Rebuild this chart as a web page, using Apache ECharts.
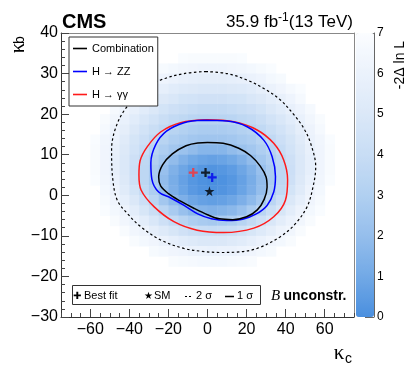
<!DOCTYPE html>
<html>
<head>
<meta charset="utf-8">
<script src="https://cdn.jsdelivr.net/npm/echarts@6/dist/echarts.min.js"></script>
<style>
html, body { margin: 0; padding: 0; background: #fff; }
#main { width: 407px; height: 374px; }
</style>
</head>
<body>
<div id="main"></div>
<script>
// kappa_c vs kappa_b likelihood scan (B unconstrained)
var xMajorTicks = [-60, -40, -20, 0, 20, 40, 60];
var yMajorTicks = [-30, -20, -10, 0, 10, 20, 30, 40];

// heat map: cell centres, rows listed top to bottom, value = -2 delta ln L (7 = white)
var heatKc = [-62.5, -57.5, -52.5, -47.5, -42.5, -37.5, -32.5, -27.5, -22.5, -17.5, -12.5, -7.5, -2.5,
  2.5, 7.5, 12.5, 17.5, 22.5, 27.5, 32.5, 37.5, 42.5, 47.5, 52.5, 57.5, 62.5, 67.5];
var heatKb = [33.75, 31.25, 28.75, 26.25, 23.75, 21.25, 18.75, 16.25, 13.75, 11.25, 8.75,
  6.25, 3.75, 1.25, -1.25, -3.75, -6.25, -8.75, -11.25, -13.75, -16.25];
var heatRows = [
  [7,7,7,7,7,7,7,7,7,7,6.9,6.8,6.8,6.8,6.8,6.8,6.9,7,7,7,7,7,7,7,7,7,7],
  [7,7,7,7,7,7,7,6.9,6.7,6.5,6.4,6.3,6.2,6.2,6.2,6.3,6.4,6.5,6.7,6.9,7,7,7,7,7,7,7],
  [7,7,7,7,7,7,6.7,6.5,6.2,6.0,5.8,5.7,5.6,5.6,5.6,5.7,5.8,6.0,6.2,6.5,6.7,7,7,7,7,7,7],
  [7,7,7,7,6.9,6.6,6.3,6.0,5.7,5.4,5.2,5.1,5.0,5.0,5.0,5.1,5.2,5.4,5.7,6.0,6.3,6.6,6.9,7,7,7,7],
  [7,7,7,7,6.6,6.2,5.8,5.5,5.1,4.9,4.6,4.5,4.4,4.4,4.4,4.5,4.6,4.9,5.1,5.5,5.8,6.2,6.6,7,7,7,7],
  [7,7,7,6.6,6.2,5.8,5.4,5.0,4.6,4.3,4.1,3.9,3.8,3.8,3.8,3.9,4.1,4.3,4.6,5.0,5.4,5.8,6.2,6.6,7,7,7],
  [7,7,6.8,6.4,5.9,5.4,4.9,4.5,4.1,3.8,3.6,3.4,3.3,3.3,3.3,3.4,3.6,3.8,4.1,4.5,4.9,5.4,5.9,6.4,6.8,7,7],
  [7,7,6.6,6.1,5.6,5.0,4.5,4.1,3.7,3.3,3.1,2.9,2.8,2.8,2.8,2.9,3.1,3.3,3.7,4.1,4.5,5.0,5.6,6.1,6.6,7,7],
  [7,6.9,6.4,6.0,5.3,4.7,4.2,3.7,3.3,2.9,2.7,2.5,2.4,2.4,2.4,2.5,2.7,2.9,3.3,3.7,4.2,4.7,5.3,6.0,6.4,6.9,7],
  [7,6.8,6.3,5.8,5.1,4.5,3.9,3.3,2.9,2.5,2.2,1.9,1.6,1.6,1.6,1.9,2.2,2.5,2.9,3.3,3.9,4.5,5.1,5.8,6.3,6.8,7],
  [7,6.8,6.3,5.7,5.0,4.3,3.6,3.0,2.5,1.9,1.4,1.0,0.8,0.7,0.8,1.0,1.4,1.9,2.5,3.0,3.6,4.3,5.0,5.7,6.3,6.8,7],
  [7,6.8,6.3,5.7,5.0,4.2,3.5,2.8,2.1,1.4,0.9,0.5,0.3,0.2,0.3,0.5,0.9,1.4,2.1,2.8,3.5,4.2,5.0,5.7,6.3,6.8,7],
  [7,6.9,6.4,5.9,5.1,4.3,3.5,2.7,1.9,1.2,0.7,0.3,0.1,0.0,0.1,0.3,0.7,1.2,1.9,2.7,3.5,4.3,5.1,5.9,6.4,6.9,7],
  [7,7,6.5,6.1,5.3,4.6,3.7,2.9,2.0,1.3,0.8,0.4,0.2,0.1,0.2,0.4,0.8,1.3,2.0,2.9,3.7,4.6,5.3,6.1,6.5,7,7],
  [7,7,6.7,6.3,5.7,5.0,4.2,3.4,2.5,1.8,1.3,0.9,0.7,0.6,0.7,0.9,1.3,1.8,2.5,3.4,4.2,5.0,5.7,6.3,6.7,7,7],
  [7,7,6.9,6.5,6.1,5.5,4.8,4.1,3.4,2.7,2.1,1.7,1.5,1.4,1.5,1.7,2.1,2.7,3.4,4.1,4.8,5.5,6.1,6.5,6.9,7,7],
  [7,7,7,6.8,6.4,6.0,5.5,4.9,4.3,3.8,3.3,2.9,2.7,2.6,2.7,2.9,3.3,3.8,4.3,4.9,5.5,6.0,6.4,6.8,7,7,7],
  [7,7,7,7,6.8,6.4,6.1,5.6,5.2,4.8,4.4,4.1,4.0,3.9,4.0,4.1,4.4,4.8,5.2,5.6,6.1,6.4,6.8,7,7,7,7],
  [7,7,7,7,7,6.8,6.5,6.3,6.0,5.7,5.4,5.2,5.0,5.0,5.0,5.2,5.4,5.7,6.0,6.3,6.5,6.8,7,7,7,7,7],
  [7,7,7,7,7,7,7.0,6.7,6.5,6.3,6.2,6.0,6.0,5.9,6.0,6.0,6.2,6.3,6.5,6.7,7.0,7,7,7,7,7,7],
  [7,7,7,7,7,7,7,7,7,6.8,6.7,6.6,6.5,6.5,6.5,6.6,6.7,6.8,7,7,7,7,7,7,7,7,7]
];

// contours [kappa_c, kappa_b]
var contourComb2s = [[-1,30.5],[10,30],[20.3,28.4],[30,26],[37.3,23.5],[44,20],[49.3,16.5],[53,12.5],
  [55.4,7],[54,2],[51,-2.8],[45,-7],[37.3,-10.2],[25.4,-13.1],[15,-14],[6.6,-14.1],[-3,-13.8],
  [-12.1,-13.1],[-24,-11],[-34.3,-7.7],[-41,-4.5],[-46.2,-1.2],[-48.5,4],[-49.1,11.2],[-47.1,16.5],
  [-41.9,21.4],[-33,25.8],[-24,28.4],[-12,30],[-1,30.5]];
var contourComb1s = [[0,13.0],[8,12.8],[16,11.6],[22,9.8],[27,7.2],[30,4.5],[30.5,2],[29,-1],[25.5,-3.6],
  [20,-5.3],[13,-6],[6,-5.8],[0,-4.8],[-7,-3.2],[-14,-1.4],[-20,0.4],[-24,2.3],[-25,4.5],[-23,7.5],
  [-18,10.2],[-11,12.2],[-5,12.9],[0,13.0]];
var contourZZ = [[-2,18.5],[-12,17.9],[-21,15.8],[-26.5,12.5],[-29,8],[-28.5,4],[-25,0.8],[-19,-0.6],
  [-12,-2.5],[-5,-4.6],[2,-5.8],[10,-6.2],[18,-5.9],[25,-4.6],[30.5,-2.5],[33.9,0.8],[34.8,4.6],
  [33.1,9.5],[28.8,13.6],[20.3,16.9],[10,18.3],[-2,18.5]];
var contourGG = [[0,18.6],[-13.8,17.9],[-24,15.6],[-30.8,12],[-34.5,8.5],[-35.1,5],[-34,1.3],
  [-27.4,-2.8],[-17.2,-6.5],[-5.3,-8.6],[8.3,-9.2],[23.7,-8.1],[33.9,-5.3],[39.9,-1.2],[41,3.8],
  [39,8.7],[33.9,12.8],[25.4,16.1],[13.5,18.1],[0,18.6]];

var bestFitComb = [-1, 5.6];
var bestFitZZ = [2.4, 4.4];
var bestFitGG = [-7.3, 5.6];
var smPoint = [1, 1];

var heatData = [];
for (var i = 0; i < heatKb.length; i++) {
  for (var j = 0; j < heatKc.length; j++) {
    if (heatRows[i][j] < 7) heatData.push([heatKc[j], heatKb[i], heatRows[i][j]]);
  }
}

var SANS = '"Liberation Sans", Arial, sans-serif';
var cellW = 5, cellH = 2.5;
var plusPath = 'path://M3,0H5V3H8V5H5V8H3V5H0V3H3Z';
var starPath = 'path://M50,0L61,35H98L68,57L79,91L50,70L21,91L32,57L2,35H39Z';

function fmt(v) { return v < 0 ? '\u2212' + (-v) : String(v); }

function renderCell(params, api) {
  var kc = api.value(0), kb = api.value(1);
  var p0 = api.coord([kc - cellW / 2, kb + cellH / 2]);
  var p1 = api.coord([kc + cellW / 2, kb - cellH / 2]);
  return {
    type: 'rect',
    shape: { x: p0[0], y: p0[1], width: p1[0] - p0[0] + 0.5, height: p1[1] - p0[1] + 0.5 },
    style: { fill: api.visual('color') }
  };
}

var myChart = echarts.init(document.getElementById('main'));
var option = {
  animation: false,
  backgroundColor: '#fff',
  grid: [
    { left: 61, top: 33, width: 293, height: 284 },
    { left: 356, top: 33, width: 18, height: 284 }
  ],
  visualMap: {
    type: 'continuous', min: 0, max: 7, dimension: 2, seriesIndex: 0,
    left: 356, top: 33, itemWidth: 18, itemHeight: 284, padding: 0,
    calculable: false, hoverLink: false, text: null, showLabel: false,
    inRange: { color: ['#4a8fdf', '#72a9e6', '#95beec', '#b1d0f1', '#c8ddf5', '#dbe8f8', '#ebf2fc', '#fbfdff'] }
  },
  xAxis: [
    { gridIndex: 0, type: 'value', position: 'bottom', min: -75, max: 75, interval: 5,
      axisLine: { onZero: false, lineStyle: { color: '#333' } },
      axisTick: { inside: true, length: 4, lineStyle: { color: '#444' } },
      axisLabel: { margin: 5, fontSize: 16, color: '#000', fontFamily: SANS,
        formatter: function (v) { return v % 20 === 0 ? fmt(v) : ''; } },
      splitLine: { show: false } },
    { gridIndex: 0, type: 'value', position: 'bottom', min: -75, max: 75, interval: 5,
      axisLine: { show: false, onZero: false }, axisLabel: { show: false }, splitLine: { show: false },
      axisTick: { inside: true, length: 8, customValues: xMajorTicks, lineStyle: { color: '#444' } } },
    { gridIndex: 0, type: 'value', position: 'top', min: -75, max: 75,
      axisLine: { onZero: false, lineStyle: { color: '#888' } }, axisTick: { show: false },
      axisLabel: { show: false }, splitLine: { show: false } },
    { gridIndex: 1, type: 'value', min: 0, max: 1, show: false }
  ],
  yAxis: [
    { gridIndex: 0, type: 'value', position: 'left', min: -30, max: 40, interval: 2,
      axisLine: { onZero: false, lineStyle: { color: '#333' } },
      axisTick: { inside: true, length: 4, lineStyle: { color: '#444' } },
      axisLabel: { margin: 3, fontSize: 16, color: '#000', fontFamily: SANS,
        formatter: function (v) { return v % 10 === 0 ? fmt(v) : ''; } },
      splitLine: { show: false } },
    { gridIndex: 0, type: 'value', position: 'left', min: -30, max: 40, interval: 2,
      axisLine: { show: false, onZero: false }, axisLabel: { show: false }, splitLine: { show: false },
      axisTick: { inside: true, length: 8, customValues: yMajorTicks, lineStyle: { color: '#444' } } },
    { gridIndex: 0, type: 'value', position: 'right', min: -30, max: 40,
      axisLine: { onZero: false, lineStyle: { color: '#888' } }, axisTick: { show: false },
      axisLabel: { show: false }, splitLine: { show: false } },
    { gridIndex: 1, type: 'value', position: 'right', min: 0, max: 7, interval: 1,
      axisLine: { onZero: false, lineStyle: { color: '#666' } },
      axisTick: { inside: true, length: 9, lineStyle: { color: '#666' } },
      axisLabel: { margin: 3, fontSize: 12, color: '#000', fontFamily: SANS },
      splitLine: { show: false } }
  ],
  legend: {
    data: ['Combination', 'H \u2192 ZZ', 'H \u2192 \u03b3\u03b3'],
    orient: 'vertical', left: 69, top: 37, padding: [5, 4, 5, 4], itemGap: 10,
    icon: 'rect', itemWidth: 14, itemHeight: 1.6,
    backgroundColor: '#fff', borderColor: '#333', borderWidth: 1, borderRadius: 0,
    textStyle: { fontSize: 11, color: '#000', fontFamily: SANS, lineHeight: 13 },
    selectedMode: false
  },
  series: [
    { name: 'likelihood', type: 'custom', xAxisIndex: 0, yAxisIndex: 0,
      renderItem: renderCell, data: heatData, encode: { x: 0, y: 1 }, silent: true, z: 1 },
    { name: 'Combination 2\u03c3', type: 'line', xAxisIndex: 0, yAxisIndex: 0, data: contourComb2s,
      smooth: 0.35, symbol: 'none', silent: true, z: 3,
      lineStyle: { color: '#000', width: 1.2, type: [2.5, 2.5] } },
    { name: 'H \u2192 \u03b3\u03b3', type: 'line', xAxisIndex: 0, yAxisIndex: 0, data: contourGG,
      smooth: 0.35, symbol: 'none', silent: true, z: 3, color: '#ff1a1a',
      lineStyle: { color: '#ff1a1a', width: 1.5 } },
    { name: 'H \u2192 ZZ', type: 'line', xAxisIndex: 0, yAxisIndex: 0, data: contourZZ,
      smooth: 0.35, symbol: 'none', silent: true, z: 3, color: '#0000ff',
      lineStyle: { color: '#0000ff', width: 1.5 } },
    { name: 'Combination', type: 'line', xAxisIndex: 0, yAxisIndex: 0, data: contourComb1s,
      smooth: 0.35, symbol: 'none', silent: true, z: 4, color: '#000',
      lineStyle: { color: '#000', width: 1.5 } },
    { name: 'Best fit \u03b3\u03b3', type: 'scatter', xAxisIndex: 0, yAxisIndex: 0, data: [bestFitGG],
      symbol: plusPath, symbolSize: 9, itemStyle: { color: '#ff3030' }, silent: true, z: 5 },
    { name: 'Best fit combination', type: 'scatter', xAxisIndex: 0, yAxisIndex: 0, data: [bestFitComb],
      symbol: plusPath, symbolSize: 9, itemStyle: { color: '#000' }, silent: true, z: 5 },
    { name: 'Best fit ZZ', type: 'scatter', xAxisIndex: 0, yAxisIndex: 0, data: [bestFitZZ],
      symbol: plusPath, symbolSize: 9, itemStyle: { color: '#0000ee' }, silent: true, z: 5 },
    { name: 'SM', type: 'scatter', xAxisIndex: 0, yAxisIndex: 0, data: [smPoint],
      symbol: starPath, symbolSize: 10, itemStyle: { color: '#000' }, silent: true, z: 5 }
  ],
  graphic: [
    { type: 'text', x: 62, y: 22, style: { text: 'CMS', font: 'bold 20px ' + SANS, fill: '#000', verticalAlign: 'middle' } },
    { type: 'text', x: 353, y: 22, style: {
        text: '{a|35.9 fb}{s|-1}{a|(13 TeV)}', align: 'right', verticalAlign: 'middle',
        rich: { a: { fontSize: 17, fontFamily: SANS, fill: '#000' },
                s: { fontSize: 12, fontFamily: SANS, fill: '#000', verticalAlign: 'top', padding: [0, 0, 8, 0] } } } },
    { type: 'text', x: 18, y: 48, rotation: Math.PI / 2, style: { text: '\u03ba', font: '21px "Liberation Serif", serif', fill: '#000', align: 'center', verticalAlign: 'middle' } },
    { type: 'text', x: 20.5, y: 40, rotation: Math.PI / 2, style: { text: 'b', font: '14px ' + SANS, fill: '#000', align: 'center', verticalAlign: 'middle' } },
    { type: 'text', x: 339, y: 353, style: { text: '\u03ba', font: '21px "Liberation Serif", serif', fill: '#000', align: 'center', verticalAlign: 'middle' } },
    { type: 'text', x: 348.5, y: 359, style: { text: 'c', font: '14px ' + SANS, fill: '#000', align: 'center', verticalAlign: 'middle' } },
    { type: 'text', x: 400, y: 65, rotation: Math.PI / 2, style: { text: '-2\u0394 ln L', font: '14px ' + SANS, fill: '#000', align: 'center', verticalAlign: 'middle' } },
    { type: 'rect', z: 20, shape: { x: 72.5, y: 285.5, width: 188, height: 19 }, style: { fill: '#fff', stroke: '#333', lineWidth: 1 } },
    { type: 'text', z: 21, x: 73, y: 296, style: { text: '\u271a', font: '10px "DejaVu Sans"', fill: '#000', verticalAlign: 'middle' } },
    { type: 'text', z: 21, x: 84, y: 296, style: { text: 'Best fit', font: '11px ' + SANS, fill: '#000', verticalAlign: 'middle' } },
    { type: 'text', z: 21, x: 144, y: 296, style: { text: '\u2605', font: '10px "DejaVu Sans"', fill: '#000', verticalAlign: 'middle' } },
    { type: 'text', z: 21, x: 154, y: 296, style: { text: 'SM', font: '11px ' + SANS, fill: '#000', verticalAlign: 'middle' } },
    { type: 'line', z: 21, shape: { x1: 185, y1: 296.5, x2: 193, y2: 296.5 }, style: { stroke: '#000', lineWidth: 1, lineDash: [2, 2] } },
    { type: 'text', z: 21, x: 196, y: 296, style: { text: '2 \u03c3', font: '11px ' + SANS, fill: '#000', verticalAlign: 'middle' } },
    { type: 'line', z: 21, shape: { x1: 225, y1: 296.5, x2: 234, y2: 296.5 }, style: { stroke: '#000', lineWidth: 1.5 } },
    { type: 'text', z: 21, x: 237, y: 296, style: { text: '1 \u03c3', font: '11px ' + SANS, fill: '#000', verticalAlign: 'middle' } },
    { type: 'text', z: 21, x: 271, y: 296, style: {
        text: '{b|B} {u|unconstr.}', verticalAlign: 'middle',
        rich: { b: { fontSize: 15, fontStyle: 'italic', fontFamily: '"Liberation Serif", serif', fill: '#000' },
                u: { fontSize: 14, fontWeight: 'bold', fontFamily: SANS, fill: '#000' } } } }
  ]
};
myChart.setOption(option);
</script>
</body>
</html>
